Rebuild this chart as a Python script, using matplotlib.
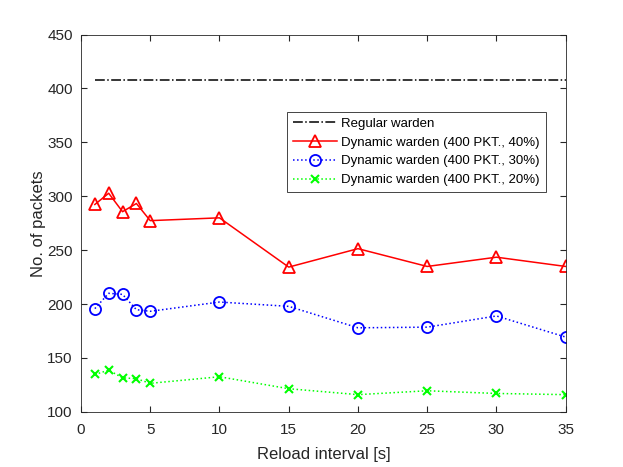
import matplotlib
matplotlib.use("Agg")
import matplotlib.pyplot as plt

plt.rcParams['font.family'] = ['Liberation Sans', 'DejaVu Sans']

# data
reload_s = [1, 2, 3, 4, 5, 10, 15, 20, 25, 30, 35]
regular = [408.3] * len(reload_s)
dyn_40 = [292.4, 302.8, 285.7, 293.3, 277.4, 280.0, 234.3, 251.4, 234.9, 243.5, 234.9]
dyn_30 = [195.8, 210.0, 209.0, 194.8, 193.3, 201.9, 197.9, 178.0, 178.6, 189.0, 169.4]
dyn_20 = [134.7, 138.7, 131.6, 130.8, 126.5, 132.6, 121.5, 116.0, 119.6, 117.1, 116.0]

xticks = [0, 5, 10, 15, 20, 25, 30, 35]
yticks = [100, 150, 200, 250, 300, 350, 400, 450]

fig = plt.figure(figsize=(6.23, 4.67), dpi=100)
ax = fig.add_axes([0.13, 0.118, 0.778, 0.808])

ax.plot(reload_s, regular, color='black', linestyle='-.', linewidth=1.1,
        label='Regular warden')
ax.plot(reload_s, dyn_40, color='red', linestyle='-', linewidth=1.1,
        marker='^', markersize=9, markerfacecolor='none', markeredgewidth=1.3,
        label='Dynamic warden (400 PKT., 40%)')
ax.plot(reload_s, dyn_30, color='blue', linestyle=':', linewidth=1.1,
        marker='o', markersize=8, markerfacecolor='none', markeredgewidth=1.3,
        label='Dynamic warden (400 PKT., 30%)')
ax.plot(reload_s, dyn_20, color=(0, 1, 0), linestyle=':', linewidth=1.1,
        marker='x', markersize=6, markeredgewidth=1.5,
        label='Dynamic warden (400 PKT., 20%)')

ax.set_xlim(0, 35)
ax.set_ylim(100, 450)
ax.set_xticks(xticks)
ax.set_yticks(yticks)
ax.tick_params(direction='in', length=4, labelsize=11, colors='#262626',
               top=True, right=True)
ax.tick_params(axis='x', pad=8)
ax.tick_params(axis='y', pad=6)
for s in ax.spines.values():
    s.set_color('#262626')
    s.set_linewidth(0.6)

ax.set_xlabel('Reload interval [s]', fontsize=12, color='#262626', labelpad=7)
ax.set_ylabel('No. of packets', fontsize=12, color='#262626', labelpad=1)

leg = ax.legend(loc='upper right', bbox_to_anchor=(0.959, 0.796), fontsize=9.5,
                fancybox=False, edgecolor='#262626', framealpha=1,
                handlelength=3.4, borderpad=0.45, labelspacing=0.5,
                handletextpad=0.3, borderaxespad=0)
leg.get_frame().set_linewidth(0.6)

fig.savefig('out.png', dpi=100)
